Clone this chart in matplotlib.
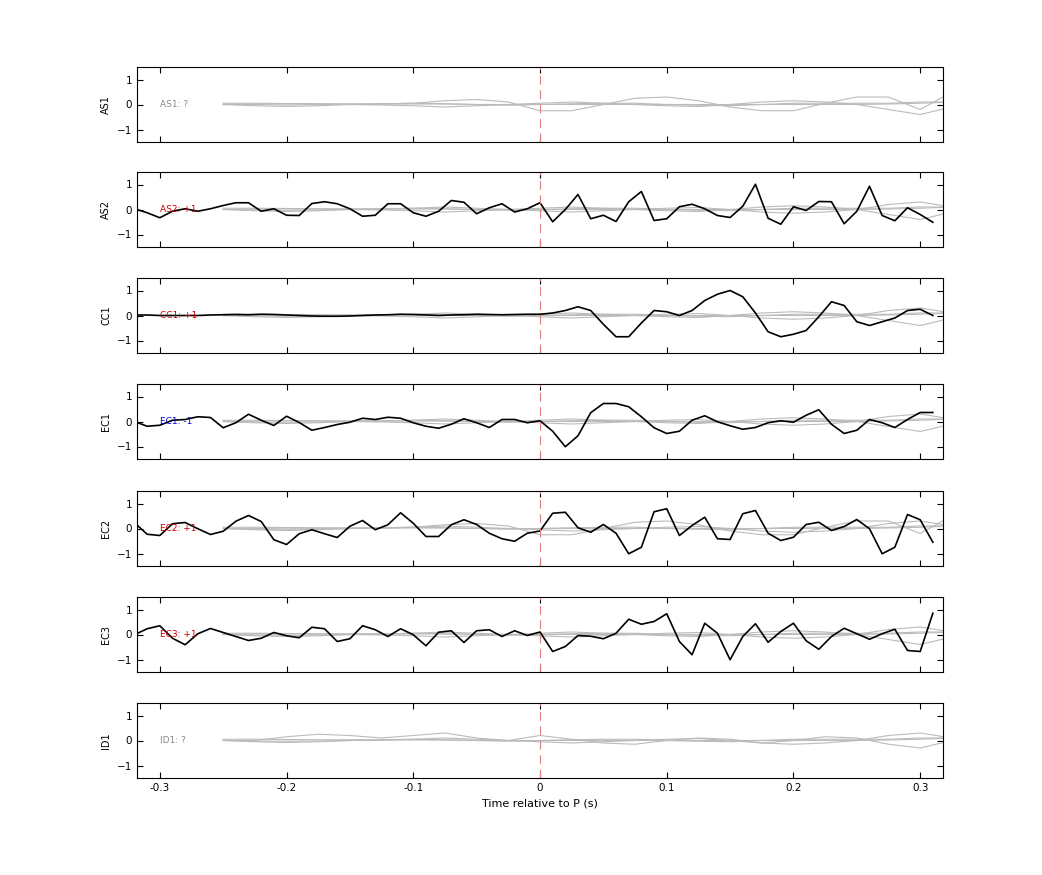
import numpy as np
import matplotlib.pyplot as plt

# black traces, 0.01 s steps from -0.33 to 0.31
t_black = np.round(np.arange(-0.33, 0.315, 0.01), 3)

as2 = [0.0, 0.03, -0.13, -0.33, -0.07, 0.03, -0.07, 0.03, 0.16, 0.27, 0.27, -0.07, 0.03, -0.23, -0.24,
       0.24, 0.31, 0.23, 0.03, -0.27, -0.23, 0.23, 0.23, -0.13, -0.27, -0.07, 0.36, 0.29, -0.17, 0.07,
       0.23, -0.1, 0.03, 0.27, -0.49, 0.0, 0.6, -0.37, -0.23, -0.48, 0.31, 0.72, -0.44, -0.37, 0.11,
       0.21, 0.03, -0.24, -0.32, 0.13, 1.01, -0.35, -0.59, 0.11, -0.04, 0.32, 0.31, -0.57, -0.07, 0.93,
       -0.24, -0.45, 0.07, -0.2, -0.51]
cc1 = [0.0, 0.02, 0.02, 0.0, 0.0, 0.0, 0.0, 0.02, 0.03, 0.04, 0.03, 0.05, 0.04, 0.02, 0.0, -0.02,
       -0.03, -0.03, -0.02, 0.0, 0.02, 0.03, 0.05, 0.04, 0.02, 0.0, 0.02, 0.03, 0.05, 0.04, 0.03, 0.04,
       0.05, 0.05, 0.1, 0.2, 0.35, 0.2, -0.35, -0.85, -0.85, -0.3, 0.2, 0.15, 0.0, 0.2, 0.6, 0.85, 1.0,
       0.75, 0.1, -0.65, -0.85, -0.75, -0.6, -0.05, 0.55, 0.4, -0.25, -0.4, -0.25, -0.1, 0.2, 0.25, 0.0]
ec1 = [0.0, 0.0, -0.19, -0.15, 0.05, 0.08, 0.19, 0.16, -0.25, -0.05, 0.29, 0.05, -0.16, 0.21, -0.04,
       -0.35, -0.24, -0.12, -0.03, 0.13, 0.08, 0.17, 0.13, -0.05, -0.19, -0.27, -0.11, 0.11, -0.05, -0.24,
       0.08, 0.08, -0.05, 0.03, -0.39, -1.01, -0.57, 0.35, 0.72, 0.72, 0.59, 0.19, -0.25, -0.48, -0.39,
       0.05, 0.23, -0.01, -0.17, -0.31, -0.24, -0.05, 0.03, -0.03, 0.25, 0.47, -0.11, -0.48, -0.35, 0.08,
       -0.05, -0.24, 0.08, 0.36, 0.36]
ec2 = [0.15, 0.23, -0.23, -0.28, 0.19, 0.24, -0.01, -0.24, -0.11, 0.29, 0.52, 0.28, -0.45, -0.64, -0.21,
       -0.05, -0.21, -0.36, 0.09, 0.32, -0.05, 0.15, 0.63, 0.21, -0.32, -0.32, 0.15, 0.35, 0.16, -0.19,
       -0.41, -0.51, -0.19, -0.1, 0.61, 0.65, 0.03, -0.15, 0.16, -0.19, -1.01, -0.75, 0.67, 0.79, -0.28,
       0.12, 0.45, -0.41, -0.44, 0.59, 0.72, -0.19, -0.48, -0.35, 0.16, 0.25, -0.08, 0.08, 0.36, -0.01,
       -1.01, -0.75, 0.56, 0.35, -0.55]
ec3 = [-0.03, -0.01, 0.23, 0.35, -0.15, -0.41, 0.03, 0.24, 0.08, -0.08, -0.24, -0.15, 0.08, -0.05, -0.13,
       0.29, 0.23, -0.28, -0.17, 0.35, 0.19, -0.08, 0.23, -0.01, -0.45, 0.09, 0.15, -0.32, 0.15, 0.19,
       -0.08, 0.15, -0.04, 0.1, -0.68, -0.48, -0.04, -0.07, -0.17, 0.05, 0.61, 0.41, 0.52, 0.83, -0.28,
       -0.81, 0.45, 0.05, -1.01, -0.08, 0.43, -0.31, 0.12, 0.45, -0.25, -0.59, -0.08, 0.25, 0.03, -0.19,
       0.03, 0.21, -0.64, -0.68, 0.85]

# grey template traces, 0.025 s steps from -0.25 to 0.325
t_grey = np.round(np.arange(-0.25, 0.33, 0.025), 3)
g1 = [0, 0, -0.02, 0, 0, 0.02, 0.05, 0.15, 0.2, 0.1, -0.25, -0.25, 0.0, 0.25, 0.3, 0.15, -0.1, -0.25,
      -0.25, 0.05, 0.3, 0.3, -0.2, 0.5]
g2 = [0, 0.02, 0.03, 0.02, 0, -0.02, -0.05, -0.1, -0.05, 0, 0.05, 0.1, 0.05, 0, -0.05, -0.08, 0, 0.1,
      0.15, 0.1, 0, -0.2, -0.4, -0.1]
g3 = [0, -0.05, -0.08, -0.05, 0, 0.03, 0.05, 0.03, 0, -0.03, 0, 0.03, 0.05, 0.05, 0, -0.03, -0.05, 0,
      0.05, 0.05, 0.05, 0.05, 0.1, 0.1]
g4 = [0.05, 0.05, 0.04, 0.03, 0.03, 0.02, 0.02, 0.02, 0, 0, 0, 0, 0, 0, 0, 0, 0, 0, 0, 0, 0, 0.02,
      0.05, 0.1]
g5 = [0, 0, 0.15, 0.25, 0.2, 0.1, 0.2, 0.3, 0.1, 0, 0.2, 0.05, -0.1, -0.15, 0, 0.1, 0.05, -0.1, 0,
      0.15, 0.1, -0.15, -0.3, 0]
g6 = [0, -0.02, -0.03, -0.02, 0, 0.02, 0.05, 0.1, 0.05, 0, -0.05, -0.1, -0.05, 0, 0.05, 0.08, 0, -0.1,
      -0.15, -0.1, 0, 0.2, 0.3, 0.1]

stations = ['AS1', 'AS2', 'CC1', 'EC1', 'EC2', 'EC3', 'ID1']
labels = ['AS1: ?', 'AS2: +1', 'CC1: +1', 'EC1: -1', 'EC2: +1', 'EC3: +1', 'ID1: ?']
label_colors = ['#888888', '#cc0000', '#cc0000', '#0000cc', '#cc0000', '#cc0000', '#888888']
black = [None, as2, cc1, ec1, ec2, ec3, None]
greys = [[g1, g2, g3, g4], [g2, g3, g4, g6], [g2, g3, g4, g6], [g2, g3, g4, g6],
         [g1, g3, g4, g6], [g2, g3, g4, g6], [g5, g6, g3, g4]]

fig = plt.figure(figsize=(10.42, 8.75), dpi=100)
tops = [67, 172, 278, 384, 491, 597, 703]
for i, st in enumerate(stations):
    ax = fig.add_axes([137/1042, 1 - (tops[i] + 75)/875, 806/1042, 75/875])
    for g in greys[i]:
        ax.plot(t_grey, g, color='#bbbbbb', lw=0.8)
    if black[i] is not None:
        ax.plot(t_black, black[i], color='black', lw=1.2)
    ax.axvline(0, color='#e08080', ls=(0, (8, 5)), lw=0.8)
    ax.text(-0.30, 0, labels[i], color=label_colors[i], fontsize=6.5, va='center')
    ax.set_xlim(-0.318, 0.318)
    ax.set_ylim(-1.5, 1.5)
    ax.set_yticks([-1, 0, 1])
    ax.set_xticks([-0.3, -0.2, -0.1, 0, 0.1, 0.2, 0.3])
    ax.tick_params(direction='in', top=True, right=True, labelsize=7.5, length=4)
    ax.set_ylabel(st, fontsize=7)
    if i < len(stations) - 1:
        ax.set_xticklabels([])
    else:
        ax.set_xticklabels(['-0.3', '-0.2', '-0.1', '0', '0.1', '0.2', '0.3'])
        ax.set_xlabel('Time relative to P (s)', fontsize=8)

fig.savefig('out.png', dpi=100)
